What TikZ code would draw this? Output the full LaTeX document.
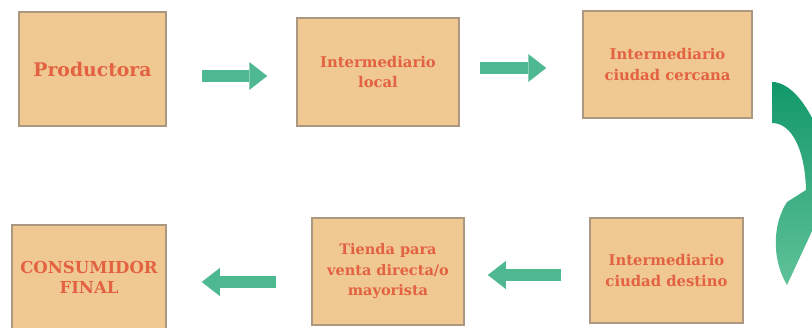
\documentclass[tikz,border=0pt]{standalone}
\usepackage{fontspec}
\setmainfont{DejaVu Serif}
\usetikzlibrary{arrows.meta}
\definecolor{cajafondo}{RGB}{240,200,146}
\definecolor{cajaborde}{RGB}{172,152,128}
\definecolor{letra}{RGB}{226,98,66}
\definecolor{flecha}{RGB}{78,184,144}
\definecolor{curvaarriba}{RGB}{18,152,106}
\definecolor{curvaabajo}{RGB}{96,194,152}
\tikzset{
  etapa/.style={draw=cajaborde, fill=cajafondo, line width=1.5pt, align=center,
    text=letra, font=\bfseries\fontsize{14.8}{20.5}\selectfont},
  flujo/.style={draw=flecha, line width=12pt,
    -{Triangle[width=28pt,length=18pt,line width=0pt]}}
}

\begin{document}
\begin{tikzpicture}[x=1pt,y=-1pt]
    \path[use as bounding box] (0,0) rectangle (812,328);
    \clip (0,0) rectangle (812,328);

    % Fila de arriba

    \node[etapa, minimum width=147pt, minimum height=114pt,
      font=\bfseries\fontsize{18.8}{20}\selectfont] (prod) at (92.5,69) {Productora};
    \node[etapa, minimum width=162pt, minimum height=108pt] (local) at (378,72)
      {Intermediario\\local};
    \node[etapa, minimum width=169pt, minimum height=107pt] (cercana) at (667.5,64.5)
      {Intermediario\\ciudad cercana};

    \draw[flujo] ([xshift=35pt,yshift=-7pt]prod.east) -- ([xshift=-29pt,yshift=-4pt]local.west);
    \draw[flujo] ([xshift=20pt,yshift=4pt]local.east) -- ([xshift=-36pt,yshift=-3.5pt]cercana.west);

    % Fila de abajo

    \node[etapa, minimum width=153pt, minimum height=105pt] (destino) at (666.5,270.5)
      {Intermediario\\ciudad destino};
    \node[etapa, minimum width=152pt, minimum height=107pt,
      font=\bfseries\fontsize{14.5}{20.5}\selectfont] (tienda) at (388,271.5)
      {Tienda para\\venta directa/o\\mayorista};
    \node[etapa, minimum width=154pt, minimum height=105pt,
      font=\bfseries\fontsize{16.5}{20}\selectfont] (consumidor) at (89,277.5)
      {CONSUMIDOR\\FINAL};

    \draw[flujo] ([xshift=-28pt,yshift=-4.5pt]destino.west) -- ([xshift=23pt,yshift=-3.5pt]tienda.east);
    \draw[flujo] ([xshift=-35pt,yshift=-10.5pt]tienda.west) -- ([xshift=35pt,yshift=-4.5pt]consumidor.east);

    % Vuelta

    \shade[top color=curvaarriba, bottom color=curvaabajo]
      (772,82) .. controls (788,82) and (812,100) .. (833,172) -- (845,160)
      -- (787,285) .. controls (772,260) and (772,225) .. (787,202)
      -- (806,190) .. controls (805,150) and (792,123) .. (772,123) -- cycle;
\end{tikzpicture}
\end{document}
